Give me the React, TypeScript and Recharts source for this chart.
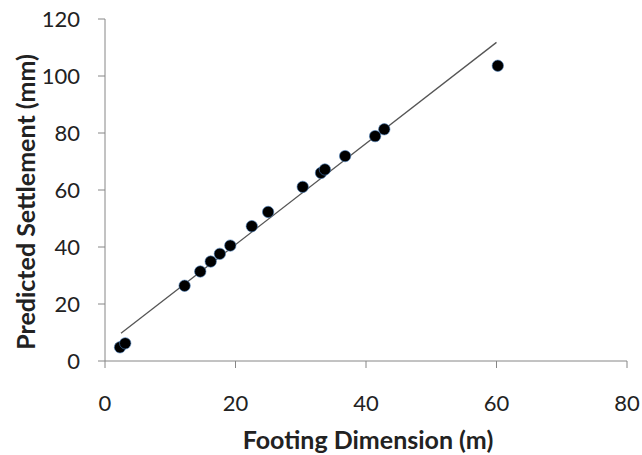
import { ScatterChart, Scatter, XAxis, YAxis } from 'recharts';

const footingDims = [2.3, 3.1, 12.2, 14.6, 16.2, 17.6, 19.2, 22.5, 25.0, 30.3, 33.1, 33.7, 36.8, 41.4, 42.8, 60.2];
const settlements = [4.8, 6.2, 26.4, 31.4, 34.9, 37.6, 40.5, 47.3, 52.3, 61.1, 66.0, 67.2, 71.9, 78.9, 81.3, 103.6];

const trendX = [2.45, 60.0];
const trendY = [9.7, 111.8];

const xTicks = [0, 20, 40, 60, 80];
const yTicks = [0, 20, 40, 60, 80, 100, 120];

const points = footingDims.map((x, i) => ({ x, y: settlements[i] }));
const trend = trendX.map((x, i) => ({ x, y: trendY[i] }));

const font = 'Lato, "Open Sans", sans-serif';
const axisColor = '#868686';
const textColor = '#222';

const Dot = (props: any) => {
  const { cx, cy } = props;
  if (cx == null || cy == null) return null;
  return <circle cx={cx} cy={cy} r={5.7} fill="#000" stroke="#4a7ebb" strokeOpacity={0.6} strokeWidth={1} />;
};

const XLabel = (props: any) => {
  const { x, y, width } = props.viewBox;
  return (
    <text x={x + width / 2 + 2} y={y + 78} textAnchor="middle" dominantBaseline="central"
      fill={textColor} fontSize={25} fontWeight={700} fontFamily={font}>
      Footing Dimension (m)
    </text>
  );
};

const YLabel = (props: any) => {
  const { x, y, height } = props.viewBox;
  const cx = x + 25;
  const cy = y + height / 2 + 12;
  return (
    <text x={cx} y={cy} transform={`rotate(-90, ${cx}, ${cy})`} textAnchor="middle" dominantBaseline="central"
      fill={textColor} fontSize={25} fontWeight={700} fontFamily={font}>
      Predicted Settlement (mm)
    </text>
  );
};

export default function App() {
  return (
    <div style={{ position: 'absolute', left: 0, top: 0, background: '#fff' }}>
      <ScatterChart width={642} height={455} margin={{ top: 19, right: 15, bottom: 0, left: 0 }}>
        <XAxis
          type="number"
          dataKey="x"
          domain={[0, 80]}
          ticks={xTicks}
          height={94}
          stroke={axisColor}
          tickSize={7}
          tickMargin={27}
          tick={{ fill: textColor, fontSize: 22, fontFamily: font }}
          label={{ content: XLabel }}
        />
        <YAxis
          type="number"
          dataKey="y"
          domain={[0, 120]}
          ticks={yTicks}
          width={105}
          stroke={axisColor}
          tickSize={7}
          tickMargin={18}
          tick={{ fill: textColor, fontSize: 22, fontFamily: font }}
          label={{ content: YLabel }}
        />
        <Scatter data={trend} line={{ stroke: '#555', strokeWidth: 1.3 }} shape={() => null} isAnimationActive={false} />
        <Scatter data={points} shape={<Dot />} isAnimationActive={false} />
      </ScatterChart>
    </div>
  );
}
